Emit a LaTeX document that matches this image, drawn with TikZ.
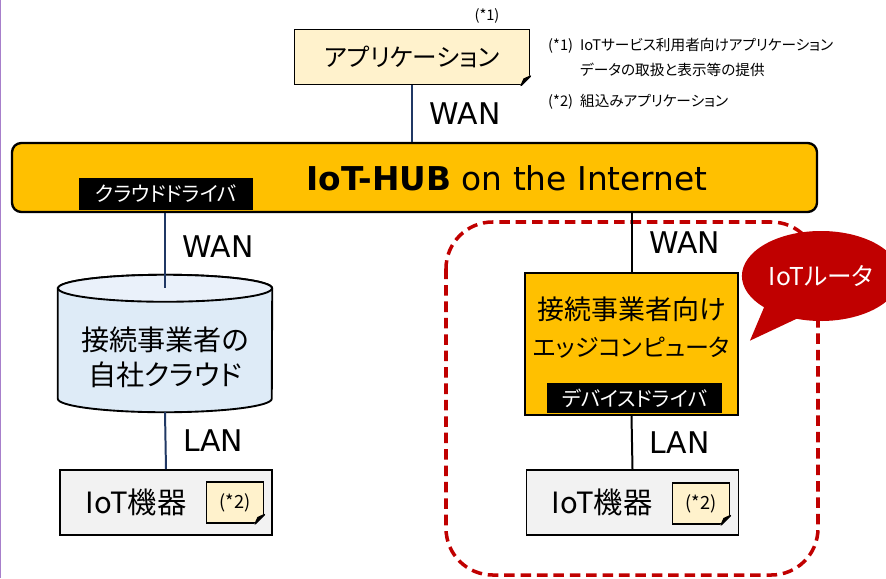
\documentclass[tikz,border=0pt]{standalone}
\usepackage{fontspec}
\setmainfont{DejaVu Sans}
\newfontfamily\jp[RawFeature=+palt]{Noto Sans CJK JP}
\usetikzlibrary{shapes.callouts,backgrounds}
\definecolor{hubyellow}{HTML}{FFC000}
\definecolor{notecream}{HTML}{FFF2CC}
\definecolor{cloudblue}{HTML}{DEEBF7}
\definecolor{cloudtop}{HTML}{EAF1FA}
\definecolor{devgray}{HTML}{F2F2F2}
\definecolor{routerred}{HTML}{C00000}
\definecolor{wannavy}{HTML}{203864}
\definecolor{framepurple}{HTML}{A77FCB}
\newcommand{\dogear}[2]{%
  \fill[#2] ([xshift=-9pt]#1.south east) -- (#1.south east) -- ([yshift=9pt]#1.south east) -- cycle;
  \draw[line width=1.2pt, fill=black, line join=round] ([xshift=-8pt]#1.south east) -- ([yshift=8pt]#1.south east) -- ([shift={(-5.5pt,5.5pt)}]#1.south east) -- cycle;
}
\begin{document}
\begin{tikzpicture}[x=0.03cm, y=-0.03cm,
    notebox/.style={draw, line width=1.6pt, fill=notecream},
    hubbar/.style={draw, line width=2pt, fill=hubyellow, rounded corners=8pt},
    drvlabel/.style={fill=black, text=white, font=\jp\fontsize{17.5}{20}\selectfont},
    devbox/.style={draw, line width=1.6pt, fill=devgray, minimum width=6.36cm, minimum height=1.95cm},
    devtext/.style={font=\jp\fontsize{25}{28}\selectfont},
    embnote/.style={notebox, minimum width=1.71cm, minimum height=1.23cm, font=\jp\fontsize{15.5}{17}\selectfont},
    wanline/.style={wannavy, line width=1.7pt},
    lanline/.style={black, line width=1.7pt},
    netlabel/.style={anchor=west, inner sep=0pt, xshift=0.5cm, text=black, font=\fontsize{25.5}{29}\selectfont},
    routerzone/.style={routerred, line width=3pt, dash pattern=on 9pt off 5pt, rounded corners=1.4cm}]
            \useasboundingbox (0,0) rectangle (886,578);
            \draw [framepurple, line width=1pt] (0.6,0) -- (0.6,578);

            \node [notebox, minimum width=7.05cm, minimum height=1.65cm, font=\jp\fontsize{21}{24}\selectfont] (app) at (412,57) {アプリケーション};
            \dogear{app}{white}
            \node [font=\jp\fontsize{12.5}{14}\selectfont] (appref) at (487,16) {(*1)};
            \node [anchor=north west, inner sep=0pt, font=\jp\fontsize{12.5}{21}\selectfont] (legend) at (548,33) {\begin{tabular}{@{}l@{\hspace{6pt}}l@{}}(*1)&IoTサービス利用者向けアプリケーション\\&データの取扱と表示等の提供\\[6pt](*2)&組込みアプリケーション\end{tabular}};

            \draw [routerzone] (446,222) rectangle (818,575);

            \node [hubbar, minimum width=24.15cm, minimum height=2.07cm] (hub) at (414.5,177.5) {};
            \node [font=\fontsize{28}{33}\selectfont] (hubtitle) at (507,178) {\textbf{IoT-HUB} on the Internet};
            \node [drvlabel, minimum width=5.22cm, minimum height=0.96cm] (clouddrv) at (166,194) {クラウドドライバ};

            \node [minimum width=6.42cm, minimum height=4.11cm] (cloud) at (165,343.5) {};
            \begin{scope}[on background layer]
                \filldraw [line width=1.6pt, fill=cloudblue] ([yshift=-0.405cm]cloud.north west) -- ([yshift=0.405cm]cloud.south west) arc [start angle=180, end angle=360, x radius=3.21cm, y radius=0.405cm] -- ([yshift=-0.405cm]cloud.north east) arc [start angle=0, end angle=180, x radius=3.21cm, y radius=0.405cm] -- cycle;
                \filldraw [line width=1.6pt, fill=cloudtop] ([yshift=-0.405cm]cloud.north) ellipse [x radius=3.21cm, y radius=0.405cm];
            \end{scope}
            \node [align=center, font=\jp\fontsize{24}{30}\selectfont] (cloudtxt) at (165,357) {接続事業者の\\自社クラウド};

            \node [draw, line width=1.6pt, fill=hubyellow, minimum width=6.39cm, minimum height=4.26cm] (edge) at (631.5,344) {};
            \node [align=center, font=\jp\fontsize{23}{31.5}\selectfont] (edgetxt) at (631.5,328) {接続事業者向け\\{\fontsize{20.5}{31.5}\selectfont エッジコンピュータ}};
            \node [drvlabel, minimum width=5.25cm, minimum height=0.9cm] (devdrv) at (634.5,398) {デバイスドライバ};

            \node [devbox] (dev1) at (166,502.5) {};
            \node [devtext] (dev1txt) at (136,502) {IoT機器};
            \node [embnote] (emb1) at (235,502.5) {(*2)};
            \dogear{emb1}{devgray}

            \node [devbox] (dev2) at (632.5,502.5) {};
            \node [devtext] (dev2txt) at (602,502) {IoT機器};
            \node [embnote] (emb2) at (701,503.5) {(*2)};
            \dogear{emb2}{devgray}

            \draw [wanline] (app.south) -- node [netlabel] (wantop) {WAN} (app.south |- hub.north);
            \draw [wanline] (cloud.north |- hub.south) -- node [netlabel, pos=0.45] (wanleft) {WAN} ([yshift=-0.4cm]cloud.north);
            \draw [wanline] (cloud.south) -- node [netlabel] (lanleft) {LAN} (dev1.north);
            \draw [lanline] (edge.north |- hub.south) -- node [netlabel] (wanright) {WAN} (edge.north);
            \draw [lanline] (edge.south) -- node [netlabel] (lanright) {LAN} (dev2.north);

            \node [ellipse callout, fill=routerred, text=white, minimum width=3.95cm, minimum height=2.7cm, callout pointer arc=28, callout absolute pointer={([xshift=0.33cm,yshift=0.1cm]edge.east)}, font=\jp\fontsize{21}{24}\selectfont] (router) at (821,276) {IoTルータ};
\end{tikzpicture}
\end{document}
